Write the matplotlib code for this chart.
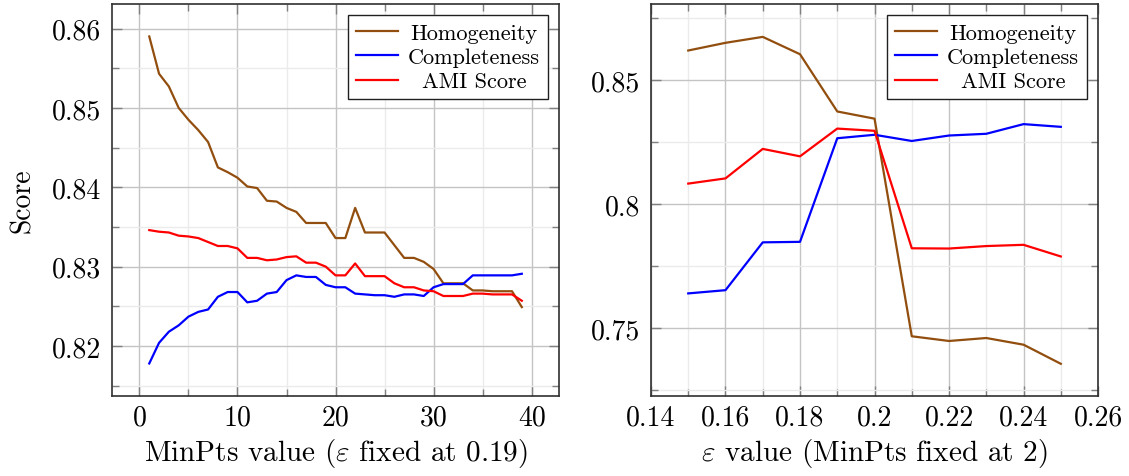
import matplotlib
matplotlib.use('Agg')
from matplotlib import pyplot as plt
from matplotlib.ticker import MultipleLocator, FuncFormatter

plt.rcParams['font.family'] = 'serif'
plt.rcParams['font.serif'] = ['cmr10']
plt.rcParams['mathtext.fontset'] = 'cm'
plt.rcParams['axes.formatter.use_mathtext'] = True

# MinPts sweep (eps fixed at 0.19)
minpts = list(range(1, 40))
homog_minpts = [0.8590, 0.8543, 0.8527, 0.8500, 0.8485, 0.8472, 0.8457, 0.8425, 0.8419, 0.8412,
                0.8401, 0.8399, 0.8383, 0.8382, 0.8374, 0.8369, 0.8355, 0.8355, 0.8355, 0.8336,
                0.8336, 0.8374, 0.8343, 0.8343, 0.8343, 0.8327, 0.8311, 0.8311, 0.8306, 0.8297,
                0.8279, 0.8279, 0.8279, 0.8270, 0.8270, 0.8269, 0.8269, 0.8269, 0.8249]
compl_minpts = [0.8178, 0.8204, 0.8218, 0.8226, 0.8237, 0.8243, 0.8246, 0.8262, 0.8268, 0.8268,
                0.8255, 0.8257, 0.8266, 0.8268, 0.8283, 0.8289, 0.8287, 0.8287, 0.8277, 0.8274,
                0.8274, 0.8266, 0.8265, 0.8264, 0.8264, 0.8262, 0.8265, 0.8265, 0.8263, 0.8274,
                0.8278, 0.8278, 0.8278, 0.8289, 0.8289, 0.8289, 0.8289, 0.8289, 0.8291]
ami_minpts = [0.8346, 0.8344, 0.8343, 0.8339, 0.8338, 0.8336, 0.8331, 0.8326, 0.8326, 0.8323,
              0.8311, 0.8311, 0.8308, 0.8309, 0.8312, 0.8313, 0.8305, 0.8305, 0.8300, 0.8289,
              0.8289, 0.8304, 0.8288, 0.8288, 0.8288, 0.8279, 0.8274, 0.8274, 0.8270, 0.8269,
              0.8263, 0.8263, 0.8263, 0.8266, 0.8266, 0.8265, 0.8265, 0.8265, 0.8257]

# eps sweep (MinPts fixed at 2)
eps = [0.15, 0.16, 0.17, 0.18, 0.19, 0.20, 0.21, 0.22, 0.23, 0.24, 0.25]
homog_eps = [0.8619, 0.8650, 0.8674, 0.8604, 0.8373, 0.8344, 0.7466, 0.7447, 0.7459, 0.7432, 0.7355]
compl_eps = [0.7639, 0.7652, 0.7845, 0.7847, 0.8265, 0.8279, 0.8254, 0.8276, 0.8283, 0.8322, 0.8311]
ami_eps = [0.8082, 0.8103, 0.8222, 0.8192, 0.8304, 0.8295, 0.7821, 0.7820, 0.7830, 0.7835, 0.7788]

labels = ['Homogeneity', 'Completeness', 'AMI Score']
colors = ['#924E0E', '#0000FF', '#FF0000']


def style_axes(ax, xmaj, xmin, ymaj, ymin):
    ax.xaxis.set_major_locator(MultipleLocator(xmaj))
    ax.xaxis.set_minor_locator(MultipleLocator(xmin))
    ax.yaxis.set_major_locator(MultipleLocator(ymaj))
    ax.yaxis.set_minor_locator(MultipleLocator(ymin))
    fmt = FuncFormatter(lambda v, p: '%g' % round(v, 4))
    ax.xaxis.set_major_formatter(fmt)
    ax.yaxis.set_major_formatter(fmt)
    ax.grid(which='major', color='#c4c4c4', lw=1.0, zorder=0)
    ax.grid(which='minor', color='#ebebeb', lw=1.0, zorder=0)
    ax.set_axisbelow(True)
    ax.tick_params(which='both', direction='in', top=True, right=True,
                   color='#808080', labelsize=20)
    ax.tick_params(axis='x', pad=6)
    ax.tick_params(axis='y', pad=8)
    ax.tick_params(which='major', length=7, width=1.0)
    ax.tick_params(which='minor', length=5, width=1.0)
    for s in ax.spines.values():
        s.set_color('#303030')
        s.set_linewidth(1.2)


def center_legend(fig, leg):
    # pgfplots-style legend: handles flush left, labels centred
    fig.canvas.draw()
    r = fig.canvas.get_renderer()
    texts = leg.get_texts()
    widths = [t.get_window_extent(r).width for t in texts]
    w = max(widths)
    for t, wi in zip(texts, widths):
        t.set_x((w - wi) / 2)


fig = plt.figure(figsize=(11.29, 4.77), dpi=100)
ax1 = fig.add_axes([0.0992, 0.1677, 0.396, 0.822])
ax2 = fig.add_axes([0.5766, 0.1677, 0.396, 0.822])

for y, lab, c in zip([homog_minpts, compl_minpts, ami_minpts], labels, colors):
    ax1.plot(minpts, y, color=c, lw=1.6, label=lab)
ax1.set_xlim(-2.8, 42.8)
ax1.set_ylim(0.8137, 0.8631)
style_axes(ax1, 10, 5, 0.01, 0.005)
ax1.set_xlabel(r'MinPts value ($\varepsilon$ fixed at 0.19)', fontsize=21, labelpad=4)
ax1.set_ylabel('Score', fontsize=20, labelpad=11)

for y, lab, c in zip([homog_eps, compl_eps, ami_eps], labels, colors):
    ax2.plot(eps, y, color=c, lw=1.6, label=lab)
ax2.set_xlim(0.14, 0.26)
ax2.set_ylim(0.7225, 0.8807)
style_axes(ax2, 0.02, 0.01, 0.05, 0.025)
ax2.set_xlabel(r'$\varepsilon$ value (MinPts fixed at 2)', fontsize=21, labelpad=4)

legs = []
for ax in (ax1, ax2):
    leg = ax.legend(loc='upper right', fontsize=16, fancybox=False, framealpha=1,
                    edgecolor='#202020', handlelength=1.9, handletextpad=0.45,
                    labelspacing=0.22, borderpad=0.36, borderaxespad=0.5)
    leg.get_frame().set_linewidth(1.0)
    legs.append(leg)

for leg in legs:
    center_legend(fig, leg)

fig.savefig('out.png', dpi=100)
